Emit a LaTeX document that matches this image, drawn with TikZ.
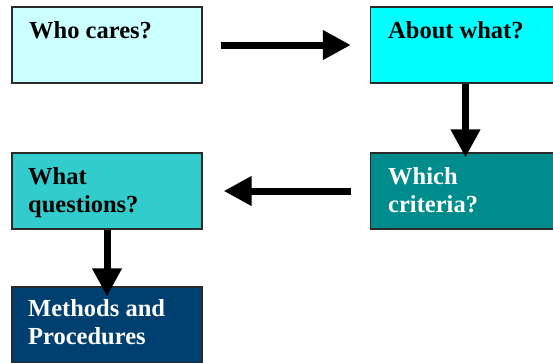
\documentclass[tikz,border=0pt]{standalone}
\usepackage{fontspec}
\setmainfont{Liberation Serif}
\usetikzlibrary{arrows.meta}
\definecolor{cLight}{HTML}{CCFFFF}
\definecolor{cCyan}{HTML}{00FFFF}
\definecolor{cTeal}{HTML}{008C8C}
\definecolor{cMid}{HTML}{33CCCC}
\definecolor{cNavy}{HTML}{004070}
\definecolor{cEdge}{HTML}{2A2A2A}
\tikzset{
  box/.style={draw=cEdge, line width=1.3pt, rectangle, inner sep=0pt, minimum width=190pt, minimum height=76pt},
  lbl/.style={inner sep=0pt, anchor=base west, align=left, font=\fontsize{24.5}{27.5}\selectfont\bfseries},
  arr/.style={line width=7pt, -{Triangle[width=28pt,length=28pt]}}
}
\begin{document}
\begin{tikzpicture}[x=1pt,y=-1pt]
\useasboundingbox (0,0) rectangle (553,362);
\clip (0,0) rectangle (553,362);
\node[box, fill=cLight] (who) at (107,45) {};
\node[box, fill=cCyan] (about) at (465.5,45) {};
\node[box, fill=cTeal] (which) at (465.5,191) {};
\node[box, fill=cMid] (quest) at (107,191) {};
\node[box, fill=cNavy] (meth) at (107,325) {};
\draw[arr, shorten <=18pt, shorten >=19pt] (who.east) -- (about.west);
\draw[arr, shorten >=-5pt] (about.south) -- (which.north);
\draw[arr, shorten <=19pt, shorten >=21pt] (which.west) -- (quest.east);
\draw[arr, shorten >=-10pt] (quest.south) -- (meth.north);
\node[lbl] (t1) at (29,38) {Who cares?};
\node[lbl] (t2) at (388,38) {About what?};
\node[lbl, text=white] (t3) at (388,212) {Which\\criteria?};
\node[lbl] (t4) at (28,212) {What\\questions?};
\node[lbl, text=white] (t5) at (28,344) {Methods and\\Procedures};
\end{tikzpicture}
\end{document}
